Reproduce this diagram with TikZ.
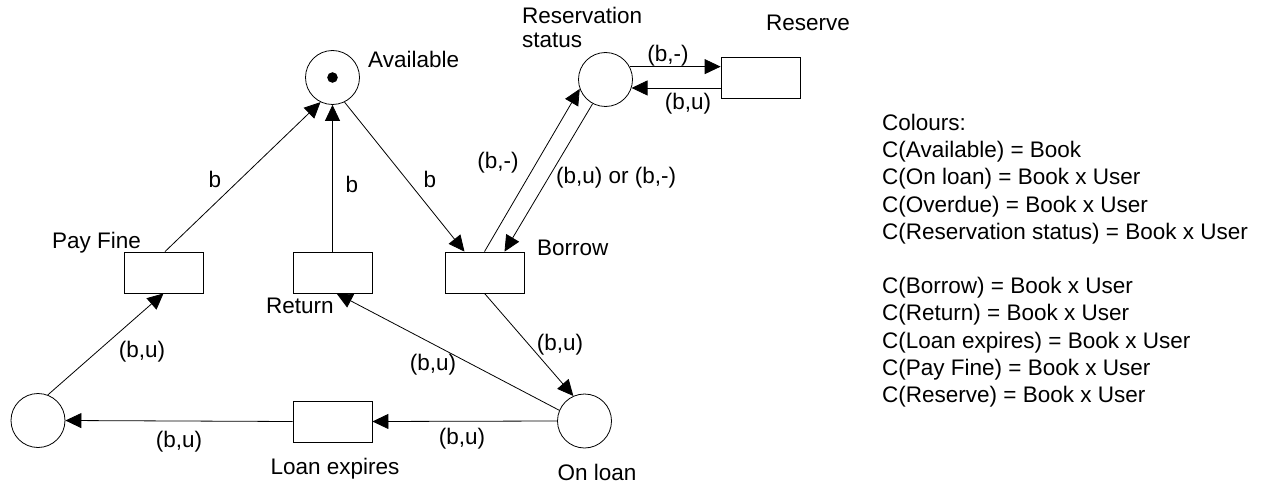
\documentclass[tikz,border=0pt]{standalone}
\usepackage{fontspec}
\setmainfont{Liberation Sans}
\usetikzlibrary{arrows.meta}
\tikzset{
  place/.style={circle,draw,line width=0.8pt,minimum size=54pt,inner sep=0pt},
  trans/.style={rectangle,draw,line width=0.8pt,minimum width=79pt,minimum height=41pt,inner sep=0pt},
  arc/.style={-{Triangle[length=16pt,width=15pt]},line width=0.8pt},
  lbl/.style={inner sep=0pt,font=\fontsize{22.5}{27.2}\selectfont}
}
\begin{document}
\begin{tikzpicture}[x=1pt,y=-1pt]
\useasboundingbox (0,0) rectangle (1266,484);
% places and transitions
\node[place] (avail) at (332.5,77.5) {};
\fill (avail.center) circle (5.3pt);
\node[place] (res) at (605.5,79.5) {};
\node[trans] (reserve) at (760.5,77.5) {};
\node[trans] (payfine) at (163.5,272.5) {};
\node[trans] (return) at (332.5,272.5) {};
\node[trans] (borrow) at (484.5,272.5) {};
\node[place] (overdue) at (38,420.5) {};
\node[trans] (loanexp) at (332.5,421.5) {};
\node[place] (onloan) at (584.5,421) {};
% arcs
\draw[arc] (avail.-64) -- ([xshift=-20pt]borrow.north);
\draw[arc] ([xshift=1.5pt]payfine.north) -- (avail.244);
\draw[arc] (return.north) -- (avail.south);
\draw[arc] (borrow.north) -- (res.200);
\draw[arc] (res.242) -- ([xshift=20pt]borrow.north);
\draw[arc] (res.28) -- (res.28 -| reserve.west);
\draw[arc] (res.-18 -| reserve.west) -- (res.-18);
\draw[arc] (borrow.south) -- (onloan.114);
\draw[arc] (onloan.157) -- ([xshift=4pt]return.south);
\draw[arc] (onloan.west) -- (loanexp.east);
\draw[arc] (loanexp.west) -- (overdue.east);
\draw[arc] (overdue.69) -- (payfine.south);
% node labels
\node[lbl,anchor=base west] (lavail) at (368,68) {Available};
\node[lbl,anchor=north west,align=left,font=\fontsize{22.5}{24.5}\selectfont] (lres) at (522,6.9) {Reservation\\status};
\node[lbl,anchor=base west] (lreserve) at (766,31) {Reserve};
\node[lbl,anchor=base west] (lpayfine) at (52,248) {Pay Fine};
\node[lbl,anchor=base west] (lreturn) at (266,313) {Return};
\node[lbl,anchor=base west] (lborrow) at (537,255) {Borrow};
\node[lbl,anchor=base] (lloanexp) at (335,474) {Loan expires};
\node[lbl,anchor=base] (lonloan) at (597,480) {On loan};
% arc labels
\node[lbl,anchor=base] (b1) at (215,187) {b};
\node[lbl,anchor=base] (b2) at (352,192) {b};
\node[lbl,anchor=base] (b3) at (430,187) {b};
\node[lbl,anchor=base] (e1) at (498,168) {(b,-)};
\node[lbl,anchor=base west] (e2) at (556,183) {(b,u) or (b,-)};
\node[lbl,anchor=base] (e3) at (668,62) {(b,-)};
\node[lbl,anchor=base] (e4) at (688,110) {(b,u)};
\node[lbl,anchor=base] (e5) at (142,357) {(b,u)};
\node[lbl,anchor=base] (e6) at (179,447) {(b,u)};
\node[lbl,anchor=base] (e7) at (433,370) {(b,u)};
\node[lbl,anchor=base] (e8) at (462,444) {(b,u)};
\node[lbl,anchor=base] (e9) at (560,350) {(b,u)};
% colour declarations
\node[lbl,anchor=north west,align=left] (colours) at (882,113.9) {Colours:\\C(Available) = Book\\C(On loan) = Book x User\\C(Overdue) = Book x User\\C(Reservation status) = Book x User\\[27.2pt]C(Borrow) = Book x User\\C(Return) = Book x User\\C(Loan expires) = Book x User\\C(Pay Fine) = Book x User\\C(Reserve) = Book x User};
\end{tikzpicture}
\end{document}
